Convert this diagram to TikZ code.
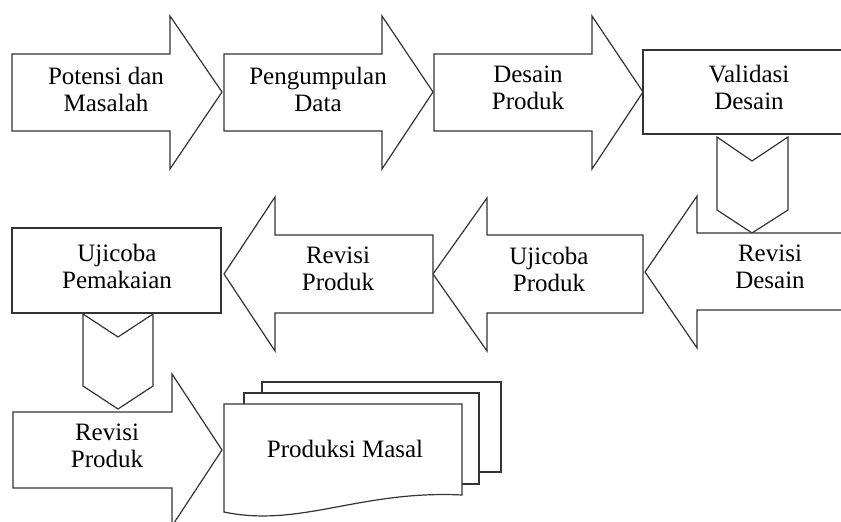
\documentclass[tikz,border=0pt]{standalone}
\usepackage{fontspec}
\setmainfont{Liberation Serif}
\begin{document}
\begin{tikzpicture}[x=0.5pt,y=-0.5pt,
    blok/.style={draw=black!80, line width=0.6pt, fill=white, line join=miter},
    teks/.style={align=center, inner sep=0pt, font=\fontsize{12.5}{13.5}\selectfont}]
                \useasboundingbox (0,0) rectangle (841,522);
                \clip (0,0) rectangle (841,522);
                % baris atas
                \draw[blok] (12,54) -- (170,54) -- (170,16) -- (222,92) -- (170,169) -- (170,131) -- (12,131) -- cycle;
                \draw[blok] (224,54) -- (382,54) -- (382,16) -- (433,92) -- (382,169) -- (382,131) -- (224,131) -- cycle;
                \draw[blok] (434,54) -- (592,54) -- (592,16) -- (643,92) -- (592,169) -- (592,131) -- (434,131) -- cycle;
                \draw[blok] (643,50) rectangle (860,134);
                \draw[blok] (717,137) -- (752,161) -- (788,137) -- (788,210) -- (752,233) -- (717,210) -- cycle;
                \node[teks] (potensi) at (106,89) {Potensi dan\\Masalah};
                \node[teks] (pengumpulan) at (318,89) {Pengumpulan\\Data};
                \node[teks] (desain) at (528,88) {Desain\\Produk};
                \node[teks] (validasi) at (749,87) {Validasi\\Desain};
                % baris tengah
                \draw[blok] (860,233) -- (697,233) -- (697,196) -- (645,272) -- (697,348) -- (697,310) -- (860,310) -- cycle;
                \draw[blok] (643,235) -- (487,235) -- (487,198) -- (433,274) -- (487,351) -- (487,313) -- (643,313) -- cycle;
                \draw[blok] (433,235) -- (275,235) -- (275,197) -- (224,274) -- (275,351) -- (275,313) -- (433,313) -- cycle;
                \draw[blok] (12,228) rectangle (221,313);
                \draw[blok] (83,314) -- (118,337) -- (153,314) -- (153,386) -- (118,409) -- (83,386) -- cycle;
                \node[teks] (revdesain) at (770,267) {Revisi\\Desain};
                \node[teks] (ujiproduk) at (549,269) {Ujicoba\\Produk};
                \node[teks] (revproduk) at (338,269) {Revisi\\Produk};
                \node[teks] (ujipakai) at (117,266) {Ujicoba\\Pemakaian};
                % baris bawah
                \draw[blok] (13,412) -- (172,412) -- (172,374) -- (222,450) -- (172,526) -- (172,488) -- (13,488) -- cycle;
                \draw[blok] (262,382) rectangle (501,472);
                \draw[blok] (244,393) rectangle (479,484);
                \draw[blok] (224,404) -- (462,404) -- (462,495) .. controls (360,490) and (300,528) .. (224,512) -- cycle;
                \node[teks] (revproduk2) at (107,446) {Revisi\\Produk};
                \node[teks] (produksi) at (345,449) {Produksi Masal};
            \end{tikzpicture}
\end{document}
